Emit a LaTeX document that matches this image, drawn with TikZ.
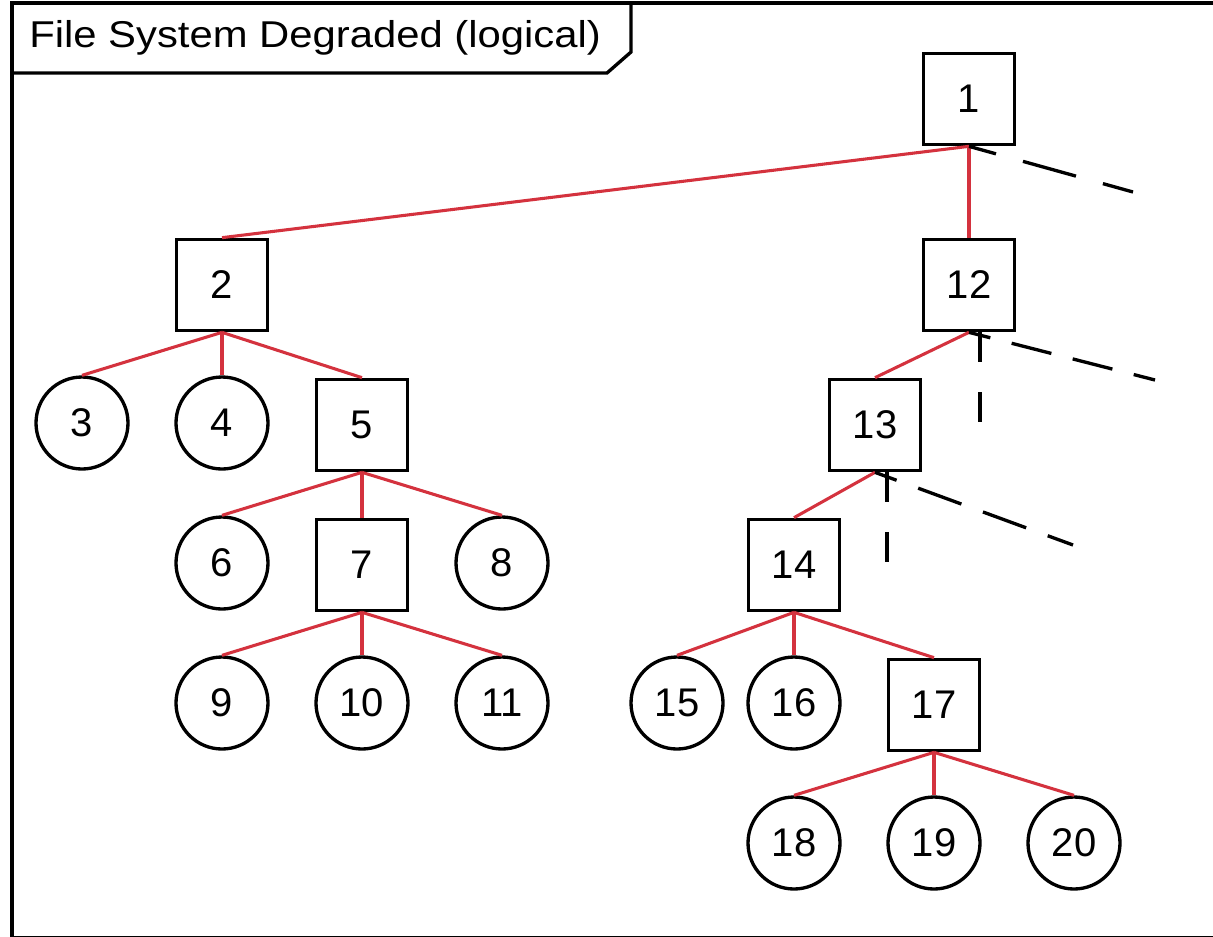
\documentclass[tikz,border=0pt]{standalone}
\usepackage{fontspec}
\setmainfont{Liberation Sans}
\usetikzlibrary{calc}
\definecolor{edgered}{RGB}{212,50,62}
\begin{document}
\begin{tikzpicture}[x=0.75pt,y=-0.75pt,
  sq/.style={draw=black,line width=2.5pt,rectangle,minimum size=68.5pt,inner sep=0pt,font=\fontsize{30}{34}\selectfont},
  ci/.style={draw=black,line width=2.5pt,circle,minimum size=69pt,inner sep=0pt,font=\fontsize{30}{34}\selectfont},
  edge/.style={draw=edgered,line width=2.3pt},
  dsh/.style={draw=black,line width=2.5pt},
  frm/.style={draw=black,line width=2.5pt}]
\useasboundingbox (0,0) rectangle (1213,936);
\begin{scope}
\clip (0,0) rectangle (1213,936);
\draw[frm] (12,3) rectangle (1230,938);
\end{scope}
\draw[frm] (12,73) -- (607,73) -- (631,52) -- (631,3);
\node[anchor=west,font=\fontsize{28}{32}\selectfont,xscale=1.12] (title) at (24,38) {File System Degraded (logical)};
% nodes
\node[sq] (n1) at (969,99) {1};
\node[sq] (n2) at (222,285) {2};
\node[sq] (n12) at (969,285) {12};
\node[ci] (n3) at (82,423) {3};
\node[ci] (n4) at (222,423) {4};
\node[sq] (n5) at (362,425) {5};
\node[sq] (n13) at (875,425) {13};
\node[ci] (n6) at (222,563) {6};
\node[sq] (n7) at (362,565) {7};
\node[ci] (n8) at (502,563) {8};
\node[sq] (n14) at (794,565) {14};
\node[ci] (n9) at (222,703) {9};
\node[ci] (n10) at (362,703) {10};
\node[ci] (n11) at (502,703) {11};
\node[ci] (n15) at (677,703) {15};
\node[ci] (n16) at (794,703) {16};
\node[sq] (n17) at (934,705) {17};
\node[ci] (n18) at (794,843) {18};
\node[ci] (n19) at (934,843) {19};
\node[ci] (n20) at (1074,843) {20};
% edges
\foreach \p/\c in {n1/n2,n1/n12,n2/n3,n2/n4,n2/n5,n5/n6,n5/n7,n5/n8,n7/n9,n7/n10,n7/n11,n12/n13,n13/n14,n14/n15,n14/n16,n14/n17,n17/n18,n17/n19,n17/n20}
  \draw[edge] (\p.south) -- (\c.north);
% dashed free ends
\coordinate (e1) at (1133,192);
\coordinate (e12) at (1155,380);
\coordinate (e13) at (1073,545);
\coordinate (v12) at (980,425);
\coordinate (v13) at (887,565);
\draw[dsh,dash pattern=on 41.25pt off 21pt,dash phase=20.25pt] (n1.south) -- (e1);
\draw[dsh,dash pattern=on 30.75pt off 16.5pt,dash phase=14.25pt] (n12.south) -- (e12);
\draw[dsh,dash pattern=on 34.5pt off 17.25pt,dash phase=17.25pt] (n13.south) -- (e13);
\draw[dsh,dash pattern=on 22pt off 23pt] (n12.south -| v12) -- (v12);
\draw[dsh,dash pattern=on 22pt off 23pt] (n13.south -| v13) -- (v13);
\end{tikzpicture}
\end{document}
